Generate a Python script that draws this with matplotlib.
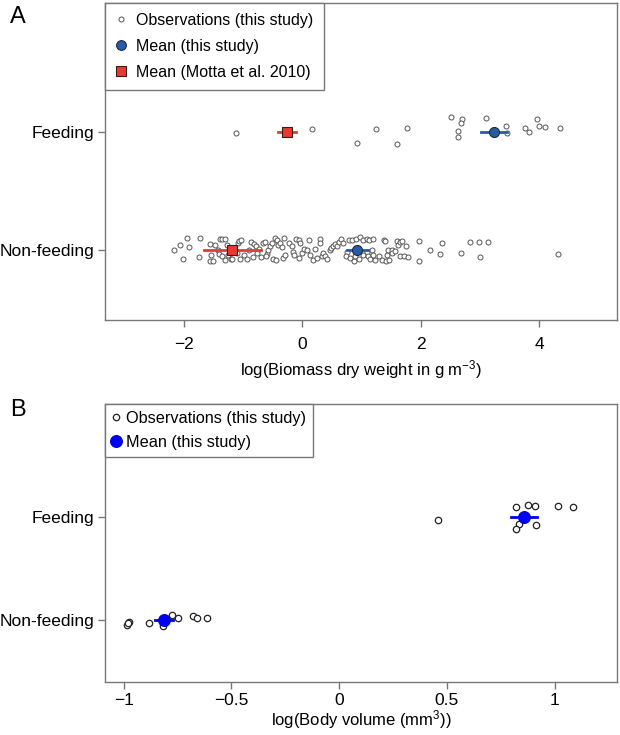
import matplotlib
matplotlib.use("Agg")
import matplotlib.pyplot as plt
from matplotlib.lines import Line2D

plt.rcParams['font.family'] = ['Liberation Sans', 'DejaVu Sans']
plt.rcParams['mathtext.default'] = 'regular'

categories = ["Non-feeding", "Feeding"]

# ---------- Panel A: biomass ----------
a_feed_x = [-1.12, 0.17, 1.24, 0.93, 1.76, 1.59, 2.51, 2.70, 2.68, 2.62, 2.63,
            3.10, 3.44, 3.45, 3.76, 3.83, 3.96, 4.00, 4.10, 4.34]
a_feed_jit = [-0.011, 0.023, 0.025, -0.093, 0.031, -0.108, 0.121, 0.110, 0.070, 0.003,
              -0.045, 0.119, 0.051, -0.011, 0.034, -0.003, 0.104, 0.045, 0.036, 0.028]

a_non_x = [-2.17, -2.07, -2.01, -1.94, -1.91, -1.73, -1.74, -1.56, -1.54, -1.56, -1.50, -1.47,
           -1.42, -1.39, -1.35, -1.31, -1.40, -1.36, -1.30, -1.28, -1.25, -1.21, -1.18, -1.11,
           -1.08, -1.07, -1.03, -1.05, -0.99, -0.94, -0.90, -0.86, -0.82, -0.84, -0.78, -0.76,
           -0.73, -0.70, -0.66, -0.63, -0.60, -0.62, -0.58, -0.55, -0.52, -0.50, -0.47, -0.45,
           -0.42, -0.41, -0.38, -0.35, -0.33, -0.31, -0.29, -0.22, -0.18, -0.16, -0.14, -0.10,
           -0.06, -0.04, -0.06, -0.01, 0.03, 0.07, 0.12, 0.13, 0.18, 0.21, 0.24, 0.29, 0.30,
           0.33, 0.34, 0.38, 0.41, 0.47, 0.49, 0.52, 0.55, 0.58, 0.61,
           0.66, 0.68, 0.78, 0.83, 0.91, 0.97, 1.02, 1.09, 1.13, 1.20, 0.75, 0.74, 0.80, 0.87,
           0.89, 0.95, 1.03, 1.09, 1.11, 1.14, 1.17, 1.20, 1.23, 1.30, 1.34, 1.37, 1.40, 1.42,
           1.41, 1.45, 1.47, 1.51, 1.52, 1.56, 1.59, 1.62, 1.65, 1.68, 1.65, 1.71, 1.75, 1.79,
           1.96, 1.97, 2.16, 2.32, 2.36, 2.68, 2.83, 2.98, 3.00, 3.13, 4.31]
a_non_jit = [-0.006, 0.042, -0.079, 0.096, 0.020, 0.096, -0.059, 0.048, -0.042, -0.093, -0.093, 0.042,
             0.000, 0.090, 0.090, 0.090, -0.037, -0.056, -0.085, 0.042, -0.042, -0.079, -0.076, -0.028,
             0.056, 0.076, 0.079, -0.079, -0.048, -0.079, 0.000, 0.062, 0.048, -0.062, 0.034, -0.031,
             0.006, -0.062, 0.056, 0.062, -0.037, -0.051, 0.000, 0.028, 0.056, -0.079, 0.099, -0.085,
             0.085, 0.037, 0.056, 0.020, -0.071, 0.099, -0.042, 0.056, 0.028, -0.023, -0.042, 0.090,
             0.085, 0.056, -0.071, -0.028, 0.006, 0.000, 0.085, -0.042, -0.085, 0.006, -0.071, 0.093, 0.056,
             -0.056, -0.028, -0.051, -0.079, 0.000, 0.014, 0.028, 0.048, 0.034, 0.062,
             0.093, 0.056, 0.085, 0.079, 0.093, 0.105, 0.085, 0.090, 0.079, 0.093, -0.023, -0.051, -0.071, -0.093,
             -0.056, -0.079, -0.042, -0.023, -0.051, -0.079, 0.000, -0.042, -0.085, -0.051, -0.085, 0.085, 0.071, -0.042,
             -0.093, -0.006, -0.085, 0.000, -0.028, -0.014, 0.071, 0.042, 0.062, 0.076, -0.056, -0.056, 0.034, -0.065,
             0.076, -0.093, -0.003, -0.037, 0.059, -0.028, 0.068, 0.068, -0.059, 0.065, -0.034]

a_mean_this = [0.93, 3.23]      # Non-feeding, Feeding
a_err_this = [0.18, 0.22]
a_mean_motta = [-1.18, -0.26]
a_err_motta = [0.48, 0.15]

# ---------- Panel B: body volume ----------
b_feed_x = [0.460, 0.819, 0.876, 0.910, 1.016, 1.085, 0.833, 0.821, 0.912]
b_feed_jit = [-0.028, 0.096, 0.111, 0.108, 0.105, 0.092, -0.068, -0.120, -0.084]
b_non_x = [-0.986, -0.975, -0.980, -0.883, -0.816, -0.776, -0.748, -0.680, -0.661, -0.612]
b_non_jit = [-0.048, -0.016, -0.030, -0.030, -0.058, 0.048, 0.022, 0.039, 0.022, 0.019]
b_mean = [-0.813, 0.860]
b_err = [0.042, 0.060]

fig = plt.figure(figsize=(6.2, 7.35), dpi=100)
axA = fig.add_axes([0.1694, 0.5640, 0.9952 - 0.1694, 0.9959 - 0.5640])
axB = fig.add_axes([0.1694, 0.0721, 0.9952 - 0.1694, 0.4503 - 0.0721])

spine_col = "#777777"
obs_edge = "#555555"
blueA = "#2B5BA6"
redA = "#E53B30"

def style(ax, pad):
    for s in ax.spines.values():
        s.set_color(spine_col)
        s.set_linewidth(1.0)
    ax.tick_params(axis='both', direction='out', length=5, width=1.0, color=spine_col,
                   labelsize=12.5, labelcolor='black', pad=3)
    ax.tick_params(axis='x', pad=pad)
    ax.set_yticks([1, 2])
    ax.set_yticklabels(categories)
    ax.set_ylim(0.40, 3.09)

# Panel A
ya_feed = [2 + j for j in a_feed_jit]
ya_non = [1 + j for j in a_non_jit]
axA.plot(a_non_x, ya_non, 'o', ms=3.6, mfc='white', mec=obs_edge, mew=0.7, ls='none', zorder=2)
axA.plot(a_feed_x, ya_feed, 'o', ms=3.6, mfc='white', mec=obs_edge, mew=0.7, ls='none', zorder=2)
for i, y in enumerate([1, 2]):
    axA.plot([a_mean_motta[i] - a_err_motta[i], a_mean_motta[i] + a_err_motta[i]], [y, y],
             color=redA, lw=2, zorder=3)
    axA.plot([a_mean_this[i] - a_err_this[i], a_mean_this[i] + a_err_this[i]], [y, y],
             color=blueA, lw=2, zorder=3)
axA.plot(a_mean_motta, [1, 2], 's', ms=6.5, mfc=redA, mec='#3a1a1a', mew=0.8, ls='none', zorder=4)
axA.plot(a_mean_this, [1, 2], 'o', ms=7.2, mfc=blueA, mec='#1a2a44', mew=0.8, ls='none', zorder=4)
axA.set_xlim(-3.33, 5.31)
axA.set_xticks([-2, 0, 2, 4])
axA.set_xticklabels(['\u22122', '0', '2', '4'])
style(axA, 7)
axA.set_xlabel('log(Biomass dry weight in g m$^{-3}$)', fontsize=12, labelpad=4)

hA = [Line2D([], [], marker='o', ls='none', ms=3.6, mfc='white', mec=obs_edge, mew=0.7),
      Line2D([], [], marker='o', ls='none', ms=7, mfc=blueA, mec='#1a2a44', mew=0.8),
      Line2D([], [], marker='s', ls='none', ms=6.5, mfc=redA, mec='#3a1a1a', mew=0.8)]
legA = axA.legend(hA, ['Observations (this study)', 'Mean (this study)', 'Mean (Motta et al. 2010)'],
                  loc='upper left', borderaxespad=0, fancybox=False, framealpha=1,
                  edgecolor=spine_col, fontsize=11.5, handlelength=0.8, handletextpad=0.55,
                  borderpad=0.62, labelspacing=0.68)
legA.get_frame().set_linewidth(1.0)

# Panel B
yb_feed = [2 + j for j in b_feed_jit]
yb_non = [1 + j for j in b_non_jit]
axB.plot(b_non_x, yb_non, 'o', ms=4.6, mfc='white', mec='#222222', mew=0.9, ls='none', zorder=2)
axB.plot(b_feed_x, yb_feed, 'o', ms=4.6, mfc='white', mec='#222222', mew=0.9, ls='none', zorder=2)
for i, y in enumerate([1, 2]):
    axB.plot([b_mean[i] - b_err[i], b_mean[i] + b_err[i]], [y, y], color='#0000EE', lw=2, zorder=3)
axB.plot(b_mean, [1, 2], 'o', ms=8.5, mfc='#0000FF', mec='#0000CC', mew=0.8, ls='none', zorder=4)
axB.set_xlim(-1.087, 1.29)
axB.set_xticks([-1, -0.5, 0, 0.5, 1])
axB.set_xticklabels(['\u22121', '\u22120.5', '0', '0.5', '1'])
style(axB, 3)
axB.set_xlabel('log(Body volume (mm$^{3}$))', fontsize=12, labelpad=0)

hB = [Line2D([], [], marker='o', ls='none', ms=4.6, mfc='white', mec='#222222', mew=0.9),
      Line2D([], [], marker='o', ls='none', ms=8.5, mfc='#0000FF', mec='#0000CC', mew=0.8)]
legB = axB.legend(hB, ['Observations (this study)', 'Mean (this study)'],
                  loc='upper left', borderaxespad=0, fancybox=False, framealpha=1,
                  edgecolor=spine_col, fontsize=11.7, handlelength=0.55, handletextpad=0.35,
                  borderpad=0.42, labelspacing=0.55)
legB.get_frame().set_linewidth(1.0)

fig.text(18 / 620, 1 - 17 / 735, 'A', fontsize=17, ha='center', va='center')
fig.text(18 / 620, 1 - 410 / 735, 'B', fontsize=17, ha='center', va='center')

fig.savefig('out.png', dpi=100)
